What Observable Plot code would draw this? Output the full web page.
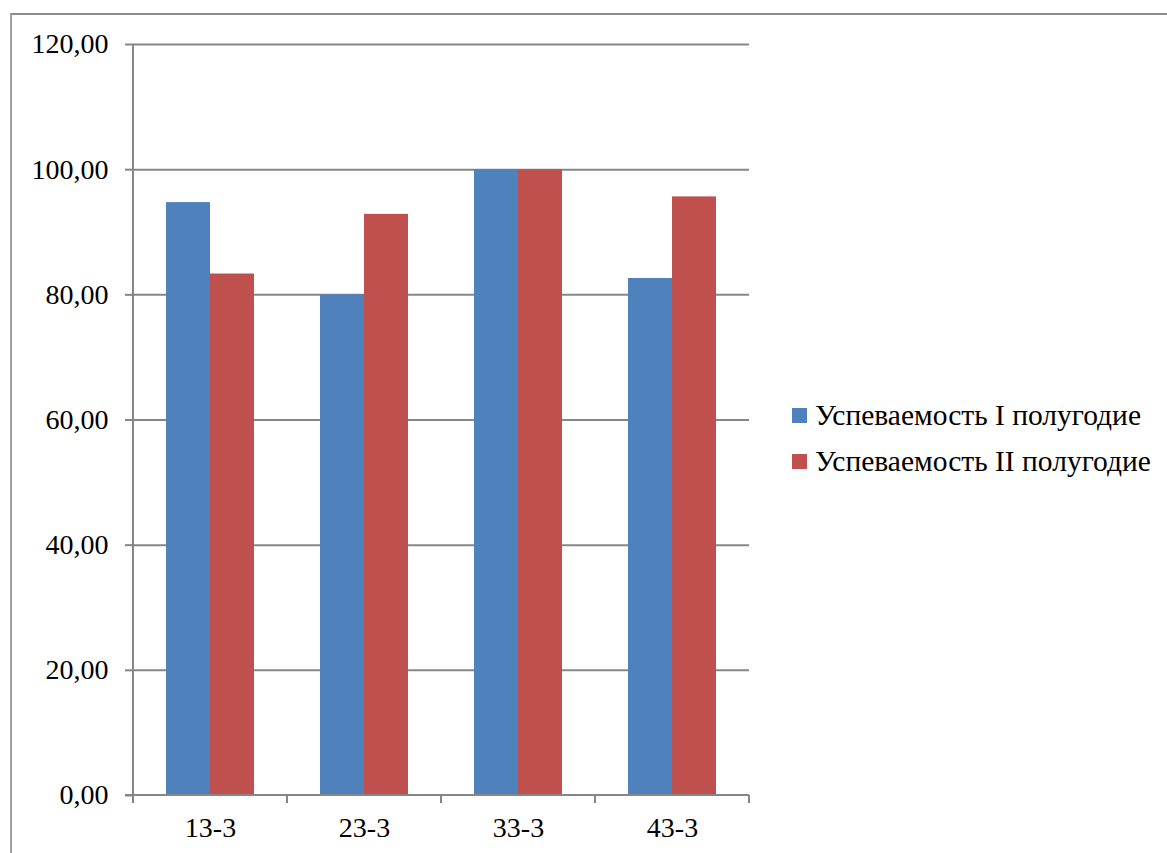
<!DOCTYPE html>
<html>
<head>
<meta charset="utf-8">
<script src="https://cdn.jsdelivr.net/npm/d3@7"></script>
<script src="https://cdn.jsdelivr.net/npm/@observablehq/plot@0.6"></script>
<style>
  html, body { margin: 0; padding: 0; background: #fff; }
  #wrap { position: relative; width: 1167px; height: 853px; overflow: hidden; font-family: "Liberation Serif", "Times New Roman", serif; }
  #frame { position: absolute; left: 10px; top: 13px; width: 1200px; height: 900px; border-top: 2px solid #8c8c8c; border-left: 2px solid #a0a0a0; box-sizing: border-box; }
  #chart { position: absolute; left: 0; top: 0; }
  #chart svg, #chart svg text { font-family: "Liberation Serif", "Times New Roman", serif !important; }
  #legend { position: absolute; left: 792px; top: 392px; font-size: 29.5px; color: #000; }
  .item { display: flex; align-items: center; height: 46px; white-space: nowrap; }
  .sw { width: 15px; height: 15px; margin-right: 8px; }
</style>
</head>
<body>
<div id="wrap">
  <div id="frame"></div>
  <div id="chart"></div>
  <div id="legend"></div>
</div>
<script>
const categories = ["13-3", "23-3", "33-3", "43-3"];
const seriesNames = ["Успеваемость I полугодие", "Успеваемость II полугодие"];
const seriesI = [94.74, 80.00, 100.00, 82.61];
const seriesII = [83.33, 92.86, 100.00, 95.65];
const yTicks = [0, 20, 40, 60, 80, 100, 120];
const colors = ["#4F81BD", "#C0504D"];

const dataI = categories.map((c, i) => ({cat: c, value: seriesI[i]}));
const dataII = categories.map((c, i) => ({cat: c, value: seriesII[i]}));
const fmt = v => d3.format(".2f")(v).replace(".", ",");
const serif = "Liberation Serif";

const half = 44;
const chart = Plot.plot({
  width: 1167,
  height: 853,
  marginLeft: 133,
  marginRight: 418,
  marginTop: 44,
  marginBottom: 58,
  style: {fontFamily: "'Liberation Serif', 'Times New Roman', serif", fontSize: "28px", color: "#000", background: "transparent"},
  x: {domain: categories, paddingInner: 66/154, paddingOuter: 33/154, label: null},
  y: {domain: [0, 120], ticks: yTicks, label: null},
  marks: [
    Plot.ruleY(yTicks.filter(t => t > 0), {stroke: "#868686", strokeWidth: 2}),
    Plot.barY(dataI, {x: "cat", y: "value", fill: colors[0], insetRight: half}),
    Plot.barY(dataII, {x: "cat", y: "value", fill: colors[1], insetLeft: half}),
    Plot.axisY({ticks: yTicks, tickFormat: fmt, tickSize: 8, tickPadding: 17, stroke: "#868686", strokeWidth: 2, fontSize: 28, fontFamily: serif}),
    Plot.axisX({tickSize: 0, tickPadding: 22, fontSize: 28, fontFamily: serif})
  ]
});
document.getElementById("chart").appendChild(chart);

// axis lines and category boundary ticks positioned from the scales
const svg = d3.select(chart);
const xs = chart.scale("x"), ys = chart.scale("y");
const x0 = xs.apply(categories[0]) - xs.step * xs.paddingOuter;
const x1 = xs.apply(categories[categories.length - 1]) + xs.bandwidth + xs.step * xs.paddingOuter;
const yb = ys.apply(0), yt = ys.apply(120);
const g = svg.append("g").attr("stroke", "#868686").attr("stroke-width", 2);
g.append("line").attr("x1", x0).attr("x2", x0).attr("y1", yt).attr("y2", yb);
g.append("line").attr("x1", x0 - 8).attr("x2", x1).attr("y1", yb).attr("y2", yb);
for (let i = 0; i <= categories.length; i++) {
  const xx = x0 + (x1 - x0) * i / categories.length;
  g.append("line").attr("x1", xx).attr("x2", xx).attr("y1", yb).attr("y2", yb + 8);
}

const legend = document.getElementById("legend");
seriesNames.forEach((n, i) => {
  const d = document.createElement("div");
  d.className = "item";
  d.innerHTML = `<div class="sw" style="background:${colors[i]}"></div><span>${n}</span>`;
  legend.appendChild(d);
});
</script>
</body>
</html>
